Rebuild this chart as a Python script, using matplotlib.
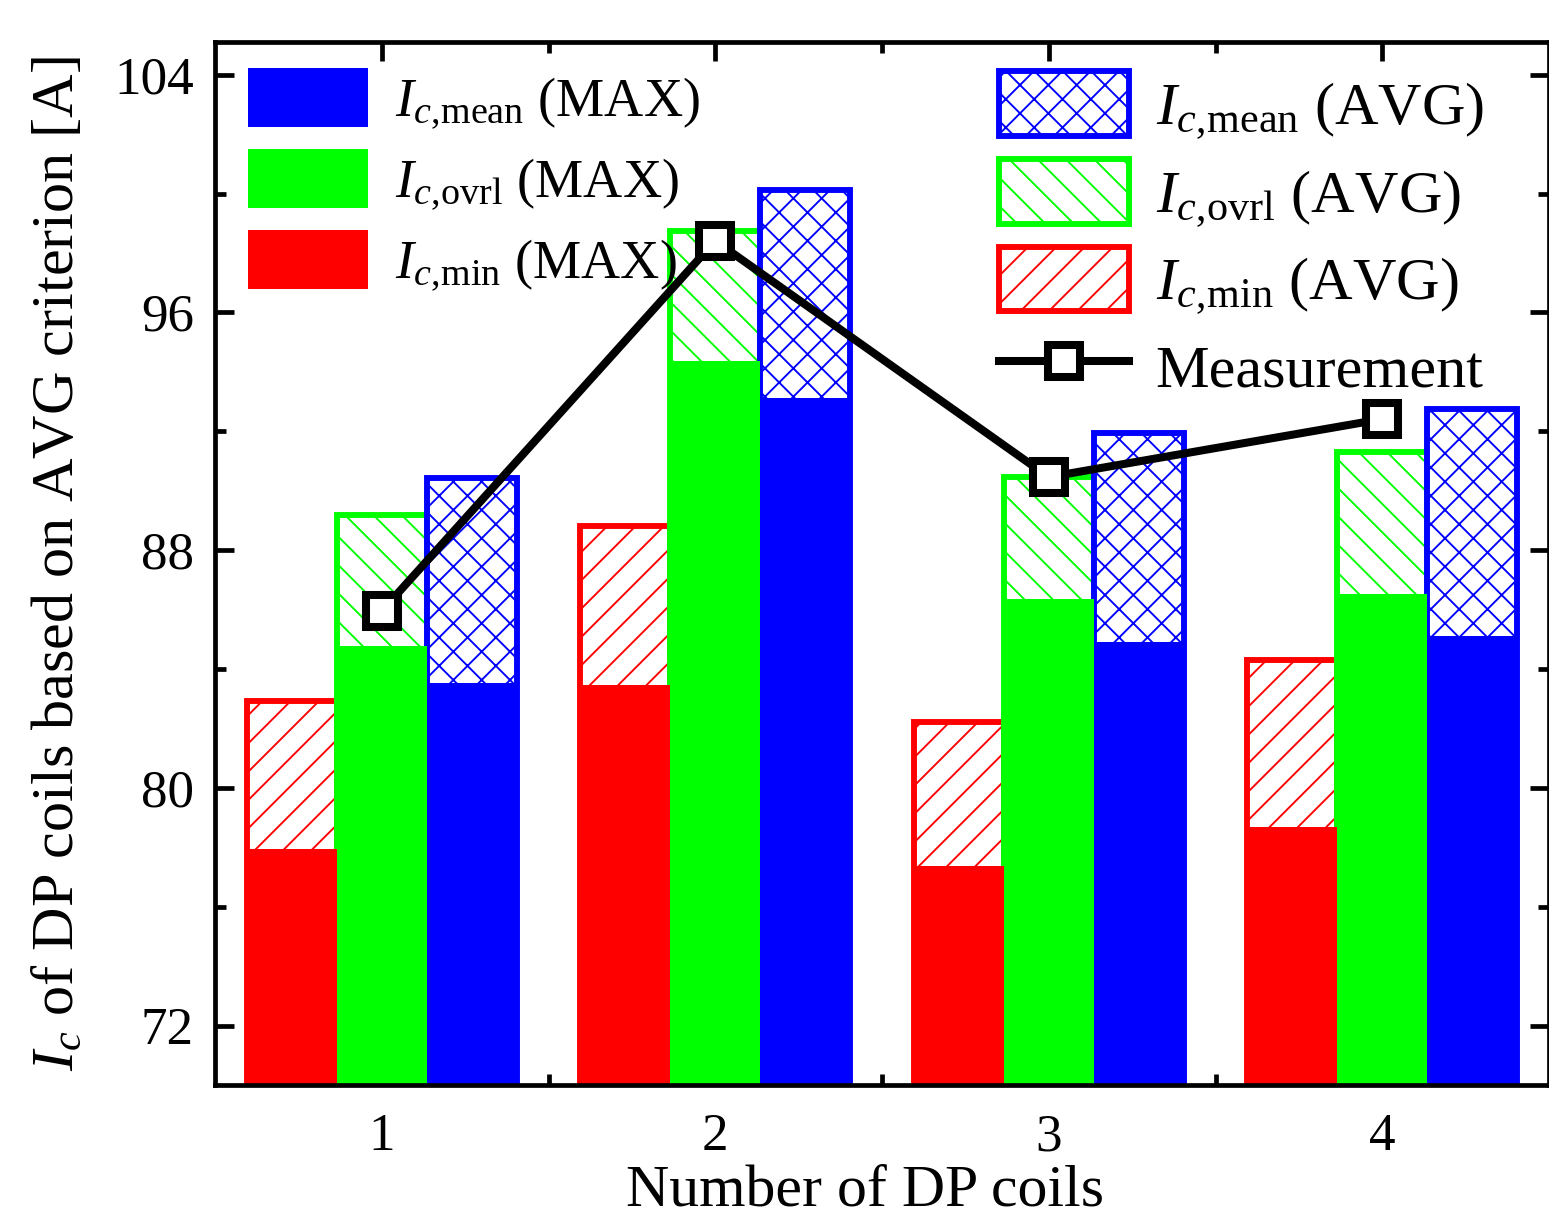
import matplotlib
matplotlib.use("Agg")
import matplotlib.pyplot as plt
import numpy as np
from matplotlib.patches import Patch
from matplotlib.lines import Line2D

# ---- data ----
coils = [1, 2, 3, 4]
min_max = [77.93, 83.45, 77.36, 78.67]
min_avg = [82.92, 88.81, 82.21, 84.30]
ovrl_max = [84.77, 94.37, 86.35, 86.52]
ovrl_avg = [89.18, 98.75, 90.46, 91.30]
mean_max = [83.52, 93.12, 84.90, 85.10]
mean_avg = [90.43, 100.13, 91.94, 92.75]
measurement = [85.95, 98.41, 90.46, 92.41]
yticks = [72, 80, 88, 96, 104]

plt.rcParams['font.family'] = ['Liberation Serif', 'DejaVu Serif']
plt.rcParams['mathtext.fontset'] = 'custom'
plt.rcParams['mathtext.rm'] = 'Liberation Serif'
plt.rcParams['mathtext.it'] = 'Liberation Serif:italic'
plt.rcParams['hatch.linewidth'] = 0.8

DPI = 170
fig = plt.figure(figsize=(1549 / DPI, 1218 / DPI), dpi=DPI)
ax = fig.add_axes([0.1388, 0.1092, 1.0 - 0.1388, 0.9655 - 0.1092])

x = np.array(coils, dtype=float)
w = 0.27
RED, GREEN, BLUE = '#ff0000', '#00ff00', '#0000ff'
elw = 2.5

series = [
    (x - w, min_avg, min_max, RED, '//'),
    (x, ovrl_avg, ovrl_max, GREEN, '\\\\'),
    (x + w, mean_avg, mean_max, BLUE, 'xx'),
]
for pos, avg, mx, col, hatch in series:
    ax.bar(pos, avg, width=w, bottom=0, facecolor='white', edgecolor=col,
           hatch=hatch, linewidth=elw, zorder=2)
for pos, avg, mx, col, hatch in series:
    ax.bar(pos, mx, width=w, bottom=0, color=col, edgecolor='none',
           linewidth=0, zorder=3)

LW, MS, MEW = 3.4, 13.5, 3.4
ax.plot(x, measurement, color='black', lw=LW, marker='s', ms=MS,
        mfc='white', mec='black', mew=MEW, zorder=5)

ax.set_xlim(0.5, 4.5)
ax.set_ylim(70, 105.1)
ax.set_xticks(coils)
ax.set_xticks([1.5, 2.5, 3.5], minor=True)
ax.set_yticks(yticks)
ax.set_yticks([76, 84, 92, 100], minor=True)
ax.tick_params(which='both', direction='in', top=True, right=True,
               labelsize=22.5, width=2.0)
ax.tick_params(which='major', length=8)
ax.tick_params(axis='x', which='major', pad=12)
ax.tick_params(axis='y', which='major', pad=9)
ax.tick_params(which='minor', length=4.5)
for s in ax.spines.values():
    s.set_linewidth(2.0)
    s.set_zorder(6)

ax.set_xlabel('Number of DP coils', fontsize=25.3)
ax.xaxis.set_label_coords(0.487, -0.076)
ax.set_ylabel(r'$I_c$ of DP coils based on AVG criterion [A]', fontsize=25.5,
              labelpad=12)

def lab(sub, tag):
    return r'$I_{c,\!\mathrm{' + sub + r'}}$ ' + tag

fs1 = 23
h_left = [Patch(facecolor=BLUE, edgecolor='none'),
          Patch(facecolor=GREEN, edgecolor='none'),
          Patch(facecolor=RED, edgecolor='none')]
l_left = [lab('mean', '(MAX)'), lab('ovrl', '(MAX)'), lab('min', '(MAX)')]
leg1 = ax.legend(h_left, l_left, loc='upper left',
                 bbox_to_anchor=(0.0247, 0.975), frameon=False, fontsize=fs1,
                 handlelength=2.21, handleheight=1.29, handletextpad=0.5,
                 labelspacing=0.33, borderpad=0, borderaxespad=0)
ax.add_artist(leg1)

fs2 = 25.5
h_right = [Patch(facecolor='white', edgecolor=BLUE, hatch='xx', lw=elw),
           Patch(facecolor='white', edgecolor=GREEN, hatch='\\\\', lw=elw),
           Patch(facecolor='white', edgecolor=RED, hatch='//', lw=elw),
           Line2D([], [], color='black', lw=LW, marker='s', ms=MS,
                  mfc='white', mec='black', mew=MEW)]
l_right = [lab('mean', '(AVG)'), lab('ovrl', '(AVG)'), lab('min', '(AVG)'),
           'Measurement']
leg2 = ax.legend(h_right, l_right, loc='upper left',
                 bbox_to_anchor=(0.5878, 0.972), frameon=False, fontsize=fs2,
                 handlelength=2.15, handleheight=1.28, handletextpad=0.45,
                 labelspacing=0.3, borderpad=0, borderaxespad=0)

fig.savefig('out.png', dpi=DPI)
